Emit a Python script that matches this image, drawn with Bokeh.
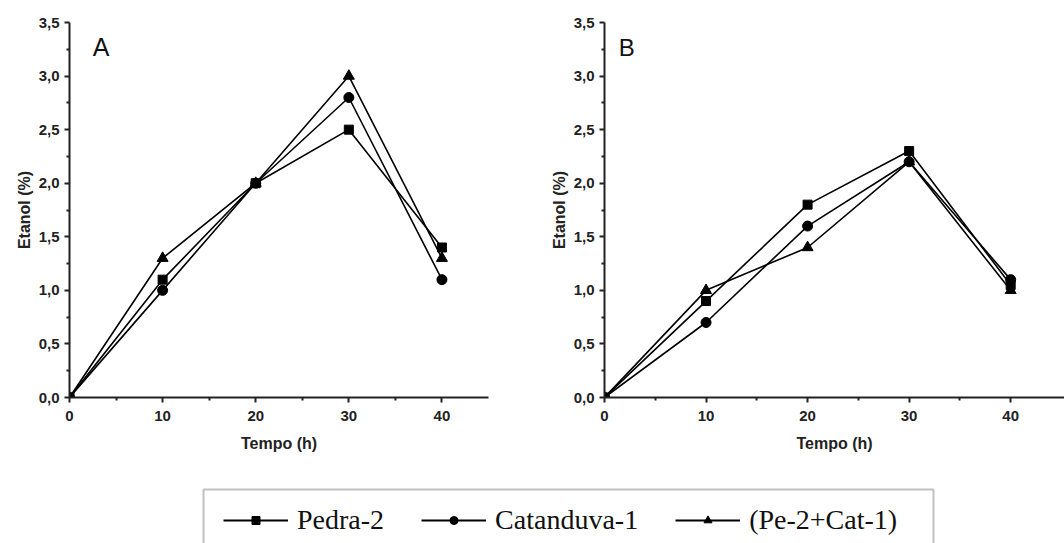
from bokeh.plotting import figure
from bokeh.layouts import row, column
from bokeh.models import (Range1d, CustomJSTickFormatter, FixedTicker, Label,
                          Legend, LegendItem, ColumnDataSource, BoxAnnotation)
from bokeh.embed import file_html
from bokeh.resources import INLINE

# ---------------- data ----------------
tempo = [0, 10, 20, 30, 40]
series_names = ["Pedra-2", "Catanduva-1", "(Pe-2+Cat-1)"]
markers = ["square", "circle", "triangle"]

# Panel A
a_pedra = [0.0, 1.1, 2.0, 2.5, 1.4]
a_catanduva = [0.0, 1.0, 2.0, 2.8, 1.1]
a_mix = [0.0, 1.3, 2.0, 3.0, 1.3]

# Panel B
b_pedra = [0.0, 0.9, 1.8, 2.3, 1.05]
b_catanduva = [0.0, 0.7, 1.6, 2.2, 1.1]
b_mix = [0.0, 1.0, 1.4, 2.2, 1.0]

x_ticks = [0, 10, 20, 30, 40]
y_ticks = [0.0, 0.5, 1.0, 1.5, 2.0, 2.5, 3.0, 3.5]

FONT = "Liberation Sans"
comma_fmt = CustomJSTickFormatter(code="return tick.toFixed(1).replace('.', ',');")


def make_panel(width, height, x_end, borders, letter, letter_pos, letter_size, ys):
    p = figure(width=width, height=height, output_backend="svg", toolbar_location=None,
               x_range=Range1d(0, x_end), y_range=Range1d(0, 3.5),
               min_border_left=borders[0], min_border_right=borders[1],
               min_border_top=borders[2], min_border_bottom=borders[3])
    p.outline_line_color = None
    p.grid.visible = False
    p.background_fill_color = "white"
    p.border_fill_color = "white"

    for ax in (p.xaxis[0], p.yaxis[0]):
        ax.axis_line_width = 2
        ax.axis_line_color = "#222222"
        ax.major_tick_line_color = "#222222"
        ax.minor_tick_line_color = "#222222"
        ax.major_tick_line_width = 2
        ax.minor_tick_line_width = 2
        ax.major_tick_in = 0
        ax.major_tick_out = 5
        ax.minor_tick_in = 0
        ax.minor_tick_out = 3
        ax.major_label_text_font = FONT
        ax.major_label_text_font_style = "bold"
        ax.major_label_text_font_size = "15px"
        ax.major_label_text_color = "#222222"
        ax.axis_label_text_font = FONT
        ax.axis_label_text_font_style = "bold"
        ax.axis_label_text_font_size = "16px"
        ax.axis_label_text_color = "#222222"

    p.xaxis.major_label_standoff = 8
    p.yaxis.major_label_standoff = 5
    p.xaxis.ticker = FixedTicker(ticks=x_ticks, minor_ticks=[5, 15, 25, 35])
    p.yaxis.ticker = FixedTicker(ticks=y_ticks,
                                 minor_ticks=[v + 0.25 for v in y_ticks[:-1]])
    p.yaxis.formatter = comma_fmt
    p.xaxis.axis_label = "Tempo (h)"
    p.yaxis.axis_label = "Etanol (%)"
    p.xaxis.axis_label_standoff = 11
    p.yaxis.axis_label_standoff = 3

    sizes = [9, 10, 11]
    for vals, m, s in zip(ys, markers, sizes):
        src = ColumnDataSource(dict(x=tempo, y=vals))
        p.line("x", "y", source=src, line_color="black", line_width=1.6)
        p.scatter("x", "y", source=src, marker=m, size=s,
                  fill_color="black", line_color="black")

    p.add_layout(Label(x=letter_pos[0], y=letter_pos[1], text=letter,
                       text_font=FONT, text_font_size=letter_size,
                       text_color="#111111", text_baseline="alphabetic"))
    return p


pA = make_panel(530, 457, 45.0, (69, 42, 17, 60), "A", (2.5, 3.27), "25px",
                [a_pedra, a_catanduva, a_mix])
pB = make_panel(534, 457, 45.3, (74, 0, 22, 60), "B", (1.4, 3.27), "24px",
                [b_pedra, b_catanduva, b_mix])

# ---------------- legend strip ----------------
LW, LH = 1064, 86
pL = figure(width=LW, height=LH, output_backend="svg", toolbar_location=None,
            x_range=Range1d(0, LW), y_range=Range1d(0, LH),
            x_axis_location=None, y_axis_location=None,
            min_border=0, min_border_left=0, min_border_right=0,
            min_border_top=0, min_border_bottom=0)
pL.outline_line_color = None
pL.grid.visible = False
pL.extra_x_ranges = {"off": Range1d(1000, 2000)}

# legend frame (bottom edge runs off the page, as in the original)
pL.add_layout(BoxAnnotation(left=203, right=933, bottom=-30, top=LH - 32,
                            fill_color="white", fill_alpha=0.0,
                            line_color="#333333", line_width=2))

items = []
for name, m, vals in zip(series_names, markers, [a_pedra, a_catanduva, a_mix]):
    src = ColumnDataSource(dict(x=tempo, y=vals))
    lr = pL.line("x", "y", source=src, line_color="black", line_width=2,
                 x_range_name="off")
    sr = pL.scatter("x", "y", source=src, marker=m, size=9,
                    fill_color="black", line_color="black", x_range_name="off")
    items.append(LegendItem(label=name, renderers=[lr, sr]))

legend = Legend(items=items, orientation="horizontal", location=(223, 7),
                glyph_width=65, glyph_height=20, label_standoff=9, spacing=37,
                padding=0, margin=0,
                label_text_font="Liberation Serif", label_text_font_size="28px",
                label_text_color="#111111",
                border_line_color=None, background_fill_alpha=0.0)
pL.add_layout(legend, "center")

layout = column(row(pA, pB), pL)

with open("out.html", "w") as f:
    f.write(file_html(layout, INLINE))
